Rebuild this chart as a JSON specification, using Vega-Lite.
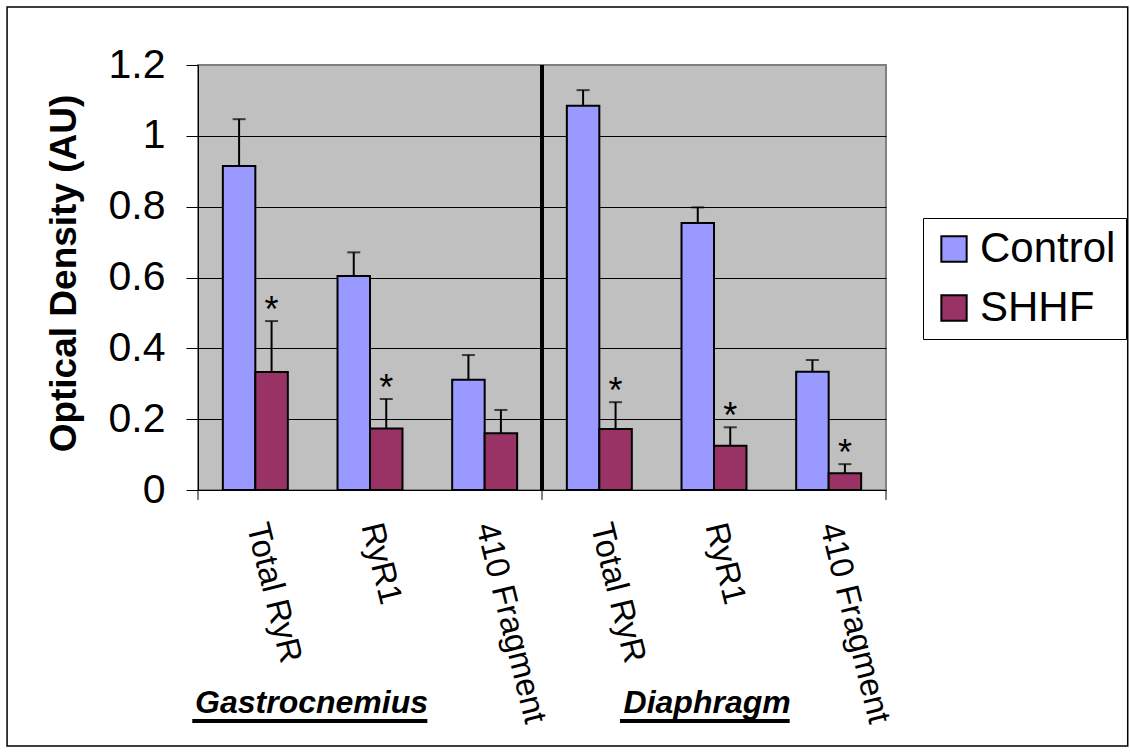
{
  "$schema": "https://vega.github.io/schema/vega-lite/v6.json",
  "width": 688,
  "height": 425,
  "autosize": {"type": "none"},
  "padding": {"left": 198, "top": 65, "right": 244, "bottom": 264},
  "background": "white",
  "config": {
    "font": "Liberation Sans",
    "view": {"fill": "#C0C0C0", "stroke": "#808080", "strokeWidth": 2}
  },
  "datasets": {
    "bars": [
      {"cat": "Total RyR|G", "series": "Control", "value": 0.915, "upper": 1.047, "sig": ""},
      {"cat": "Total RyR|G", "series": "SHHF", "value": 0.333, "upper": 0.477, "sig": "*"},
      {"cat": "RyR1|G", "series": "Control", "value": 0.604, "upper": 0.671, "sig": ""},
      {"cat": "RyR1|G", "series": "SHHF", "value": 0.174, "upper": 0.257, "sig": "*"},
      {"cat": "410 Fragment|G", "series": "Control", "value": 0.311, "upper": 0.381, "sig": ""},
      {"cat": "410 Fragment|G", "series": "SHHF", "value": 0.160, "upper": 0.226, "sig": ""},
      {"cat": "Total RyR|D", "series": "Control", "value": 1.085, "upper": 1.129, "sig": ""},
      {"cat": "Total RyR|D", "series": "SHHF", "value": 0.172, "upper": 0.248, "sig": "*"},
      {"cat": "RyR1|D", "series": "Control", "value": 0.754, "upper": 0.798, "sig": ""},
      {"cat": "RyR1|D", "series": "SHHF", "value": 0.125, "upper": 0.177, "sig": "*"},
      {"cat": "410 Fragment|D", "series": "Control", "value": 0.334, "upper": 0.367, "sig": ""},
      {"cat": "410 Fragment|D", "series": "SHHF", "value": 0.047, "upper": 0.073, "sig": "*"}
    ]
  },
  "data": {"name": "bars"},
  "layer": [
    {
      "mark": {"type": "rule", "stroke": "black", "strokeWidth": 2},
      "encoding": {
        "x": {
          "field": "cat", "type": "nominal", "sort": null,
          "scale": {"domain": ["Total RyR|G", "RyR1|G", "410 Fragment|G", "Total RyR|D", "RyR1|D", "410 Fragment|D"], "paddingInner": 0, "paddingOuter": 0},
          "axis": {
            "title": null,
            "labelExpr": "split(datum.label, '|')[0]",
            "labelAngle": 76,
            "labelAlign": "left",
            "labelBaseline": "middle",
            "labelFontSize": 33,
            "labelColor": "black",
            "labelLimit": 500,
            "labelPadding": 33,
            "labelOffset": 1,
            "ticks": false,
            "domainColor": "black",
            "domainWidth": 1,
            "grid": false
          }
        },
        "xOffset": {"field": "series", "type": "nominal", "scale": {"domain": ["Control", "SHHF"], "paddingInner": 0, "paddingOuter": 0.765}},
        "y": {
          "field": "value", "type": "quantitative",
          "scale": {"domain": [0, 1.2], "nice": false},
          "axis": {
            "values": [0, 0.2, 0.4, 0.6, 0.8, 1, 1.2],
            "format": "~g",
            "labelFontSize": 41,
            "labelColor": "black",
            "labelPadding": 21,
            "tickSize": 12,
            "tickColor": "black",
            "domainColor": "black",
            "domainWidth": 1,
            "grid": true,
            "gridColor": {"condition": {"test": "datum.value >= 1.2", "value": "#808080"}, "value": "black"},
            "gridWidth": 1,
            "title": "Optical Density (AU)",
            "titleFontSize": 37,
            "titleFontWeight": "bold",
            "titleColor": "black",
            "titleAngle": -90,
            "titleAlign": "center",
            "titleBaseline": "middle",
            "titleX": -134,
            "titleY": 208
          }
        },
        "y2": {"field": "upper"}
      }
    },
    {
      "mark": {"type": "tick", "color": "black", "thickness": 2, "size": 13},
      "encoding": {
        "x": {"field": "cat", "type": "nominal", "sort": null},
        "xOffset": {"field": "series", "type": "nominal"},
        "y": {"field": "upper", "type": "quantitative"}
      }
    },
    {
      "mark": {"type": "bar", "stroke": "black", "strokeWidth": 2},
      "encoding": {
        "x": {"field": "cat", "type": "nominal", "sort": null},
        "xOffset": {"field": "series", "type": "nominal"},
        "y": {"field": "value", "type": "quantitative"},
        "color": {
          "field": "series", "type": "nominal",
          "scale": {"domain": ["Control", "SHHF"], "range": ["#9999FF", "#993366"]},
          "legend": {
            "orient": "none",
            "legendX": 725,
            "legendY": 153,
            "title": null,
            "symbolType": "square",
            "symbolSize": 640,
            "symbolStrokeColor": "black",
            "symbolStrokeWidth": 2,
            "labelFontSize": 42,
            "labelFont": "Liberation Sans",
            "labelColor": "black",
            "labelOffset": 5,
            "strokeColor": "black",
            "fillColor": "white",
            "padding": 10,
            "rowPadding": 17
          }
        }
      }
    },
    {
      "transform": [{"filter": "datum.sig == '*'"}],
      "mark": {"type": "text", "fontSize": 36, "baseline": "alphabetic", "align": "center", "dy": 1, "color": "black"},
      "encoding": {
        "x": {"field": "cat", "type": "nominal", "sort": null},
        "xOffset": {"field": "series", "type": "nominal"},
        "y": {"field": "upper", "type": "quantitative"},
        "text": {"field": "sig"}
      }
    },
    {
      "data": {"values": [{}]},
      "mark": {"type": "rule", "stroke": "black", "strokeWidth": 4},
      "encoding": {
        "x": {"datum": "Total RyR|D", "bandPosition": 0},
        "y": {"datum": 0},
        "y2": {"datum": 1.2}
      }
    },
    {
      "data": {"values": [{}]},
      "mark": {"type": "rule", "stroke": "black", "strokeWidth": 1},
      "encoding": {
        "x": {"datum": "Total RyR|G", "bandPosition": 0},
        "y": {"datum": 0},
        "y2": {"datum": -0.028}
      }
    },
    {
      "data": {"values": [{}]},
      "mark": {"type": "rule", "stroke": "black", "strokeWidth": 1},
      "encoding": {
        "x": {"datum": "Total RyR|D", "bandPosition": 0},
        "y": {"datum": 0},
        "y2": {"datum": -0.028}
      }
    },
    {
      "data": {"values": [{}]},
      "mark": {"type": "rule", "stroke": "black", "strokeWidth": 1},
      "encoding": {
        "x": {"datum": "410 Fragment|D", "bandPosition": 1},
        "y": {"datum": 0},
        "y2": {"datum": -0.028}
      }
    },
    {
      "data": {"values": [{"label": "Gastrocnemius"}]},
      "mark": {"type": "text", "fontSize": 32, "fontWeight": "bold", "fontStyle": "italic", "align": "center", "baseline": "alphabetic", "color": "black"},
      "encoding": {
        "x": {"datum": "RyR1|G", "bandPosition": -0.01},
        "y": {"datum": -0.63},
        "text": {"field": "label"}
      }
    },
    {
      "data": {"values": [{"label": "Diaphragm"}]},
      "mark": {"type": "text", "fontSize": 32, "fontWeight": "bold", "fontStyle": "italic", "align": "center", "baseline": "alphabetic", "color": "black"},
      "encoding": {
        "x": {"datum": "RyR1|D", "bandPosition": 0.44},
        "y": {"datum": -0.63},
        "text": {"field": "label"}
      }
    },
    {
      "data": {"values": [{}]},
      "mark": {"type": "rule", "stroke": "black", "strokeWidth": 4},
      "encoding": {
        "x": {"datum": "Total RyR|G", "bandPosition": -0.05},
        "x2": {"datum": "410 Fragment|G", "bandPosition": 0},
        "y": {"datum": -0.652}
      }
    },
    {
      "data": {"values": [{}]},
      "mark": {"type": "rule", "stroke": "black", "strokeWidth": 4},
      "encoding": {
        "x": {"datum": "Total RyR|D", "bandPosition": 0.68},
        "x2": {"datum": "410 Fragment|D", "bandPosition": 0.16},
        "y": {"datum": -0.652}
      }
    },
    {
      "data": {"values": [{}]},
      "mark": {"type": "rect", "fill": null, "fillOpacity": 0, "stroke": "black", "strokeWidth": 1.5},
      "encoding": {
        "x": {"datum": "Total RyR|G", "bandPosition": -1.665},
        "x2": {"datum": "410 Fragment|D", "bandPosition": 3.108},
        "y": {"datum": 1.3637},
        "y2": {"datum": -0.7228}
      }
    }
  ]
}
